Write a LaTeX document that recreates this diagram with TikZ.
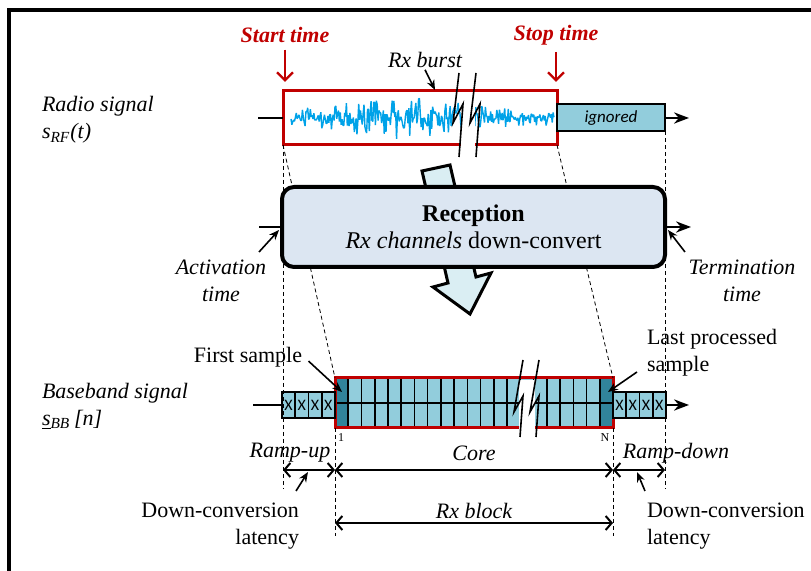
\documentclass[tikz,border=0pt]{standalone}
\usepackage{fontspec}
\setmainfont{Liberation Serif}
\setsansfont{Carlito}
\usetikzlibrary{arrows.meta, positioning}

\definecolor{burstred}{RGB}{192,0,0}
\definecolor{cellblue}{RGB}{146,205,220}
\definecolor{celldark}{RGB}{49,132,155}
\definecolor{recfill}{RGB}{220,230,242}
\definecolor{arrowfill}{RGB}{218,238,243}
\definecolor{noiseblue}{RGB}{0,162,232}

\begin{document}
\begin{tikzpicture}[x = 0.5pt, y = -0.5pt, % one unit = one pixel of the sketch
                > = Stealth, % arrow head style
                node distance = 6.62pt, % width of one sample
                semithick % line style
            ]

            \tikzstyle{every node}=[inner sep = 1pt, outer sep = 0pt,
            font = \fontsize{11}{13.5}\selectfont]
            \tikzstyle{lbl}=[font = \fontsize{11}{13.5}\selectfont\itshape, align = center]
            \tikzstyle{redlbl}=[text = burstred, font = \fontsize{11}{13.5}\selectfont\bfseries\itshape]
            \tikzstyle{redarr}=[burstred, line width = 1.2pt,
            -{Straight Barb[length = 4pt, width = 8pt]}]
            \tikzstyle{ptr}=[line width = 0.8pt, -{Stealth[length = 5pt, width = 4pt]}]
            \tikzstyle{dimline}=[line width = 1pt,
            {Straight Barb[length = 3pt, width = 7pt]}-{Straight Barb[length = 3pt, width = 7pt]}]
            \tikzstyle{guide}=[thin, dash pattern = on 2pt off 1.5pt]
            \tikzstyle{xcell}=[draw, fill = cellblue, line width = 0.8pt, minimum width = 6.62pt,
            minimum height = 13pt, inner sep = 0pt, font = \fontsize{8}{8}\sffamily]
            \tikzstyle{brk}=[line width = 0.8pt]

            \useasboundingbox (0,0) rectangle (811,571);
            \draw[line width = 2.2pt] (9,571) -- (9,10) -- (811,10);

            % signal names
            \node (rf) [lbl, align = left, anchor = west] at (40,120) {Radio signal\\s\textsubscript{RF}(t)};
            \node (bb) [lbl, align = left, anchor = west] at (40,406) {Baseband signal\\\underline{s}\textsubscript{BB}\,[n]};

            % radio signal
            \node (burst) [draw = burstred, line width = 1.5pt, minimum width = 137pt,
            minimum height = 27pt] at (420,118) {};
            \node (ign) [draw, fill = cellblue, line width = 1pt, minimum width = 54pt,
            minimum height = 13.5pt, font = \fontsize{8.5}{9}\sffamily\itshape] at (611,118) {ignored};
            \coordinate (rfin) at (258,118); \coordinate (rfout) at (689,118);
            \draw[line width = 1pt] (rfin) -- (burst.west);
            \draw[line width = 1pt, ->] (ign.east) -- (rfout);

            \pgfmathsetseed{7}
            \draw[noiseblue, line width = 0.7pt, line join = bevel] plot[domain = 291:554, samples = 300]
            (\x, {118 + (7 + 14*exp(0-(((\x-400)/80)^2)))*rand*(0.5 + 0.5*(rnd > 0.5))});
            \fill[white] (461,93) rectangle (475,148);
            \draw[brk] (459,73) -- (453,123) -- (463,104) -- (459,157);
            \draw[brk] (476,73) -- (470,123) -- (480,104) -- (476,157);

            \node (start) [redlbl] at (285,35) {Start time};
            \node (stop) [redlbl] at (556,35) {Stop time};
            \draw[redarr, shorten < = 2.5pt, shorten > = 4.5pt] (start.south) -- (start.south |- burst.north);
            \draw[redarr, shorten < = 2.5pt, shorten > = 4.5pt] (stop.south) -- (stop.south |- burst.north);

            \node (rxb) [lbl] at (425,60) {Rx burst};
            \coordinate (rxbtip) at (435,90);
            \draw[ptr] (rxb.south) -- (rxbtip);

            % baseband signal
            \node (core) [draw = burstred, line width = 1.5pt, fill = cellblue, minimum width = 139pt,
            minimum height = 25pt, inner sep = 0pt] at (474,403) {};
            \fill[celldark] ([shift = {(0.75pt,-0.75pt)}]core.north west) rectangle ([shift = {(6.62pt,0.75pt)}]core.south west);
            \fill[celldark] ([shift = {(-0.75pt,-0.75pt)}]core.north east) rectangle ([shift = {(-6.62pt,0.75pt)}]core.south east);
            \foreach \i in {1,...,20}
                \draw[line width = 0.8pt, shorten < = 0.75pt, shorten > = 0.75pt]
                ([xshift = {\i*6.62pt}]core.north west) -- ([xshift = {\i*6.62pt}]core.south west);
            \draw[line width = 0.8pt, shorten < = 0.75pt, shorten > = 0.75pt] (core.west) -- (core.east);
            \fill[white] (519,380.5) rectangle (535,431);
            \draw[brk] (523,360) -- (514,412) -- (523,396) -- (520,437);
            \draw[brk] (539,360) -- (530,412) -- (539,396) -- (536,437);

            \node (u1) [xcell] at (288.6,405) {X}; \node (u2) [xcell, right of = u1] {X};
            \node (u3) [xcell, right of = u2] {X}; \node (u4) [xcell, right of = u3] {X};
            \node (d1) [xcell] at (619.6,405) {X}; \node (d2) [xcell, right of = d1] {X};
            \node (d3) [xcell, right of = d2] {X}; \node (d4) [xcell, right of = d3] {X};
            \coordinate (bbin) at (253,405); \coordinate (bbout) at (689,405);
            \draw[line width = 1pt] (bbin) -- (u1.west);
            \draw[line width = 1pt, ->] (d4.east) -- (bbout);

            \node (one) [font = \fontsize{6}{6}\selectfont] at (341,438) {1};
            \node (nn) [font = \fontsize{6}{6}\selectfont] at (605,438) {N};

            % guide lines
            \coordinate (gbot) at (0,489); \coordinate (gend) at (0,536);
            \draw[guide] (burst.south west) -- (burst.south west |- gbot);
            \draw[guide] (ign.south east) -- (ign.south east |- gbot);
            \draw[guide] (burst.south west) -- (core.north west);
            \draw[guide] (burst.south east) -- (core.north east);
            \draw[guide] (core.south west) -- (core.south west |- gend);
            \draw[guide] (core.south east) -- (core.south east |- gend);

            % reception
            \draw[fill = arrowfill, line width = 1.5pt] (422,171) -- (450,165) -- (476,277) -- (491,273)
            -- (470,314) -- (433,287) -- (448,283) -- cycle;
            \node (rec) [draw, fill = recfill, rounded corners = 6pt, line width = 2pt,
            minimum width = 191.5pt, minimum height = 40pt, align = center,
            font = \fontsize{12}{13.5}\selectfont] at (473.5,227)
            {\textbf{Reception}\\\textit{Rx channels} down-convert};
            \coordinate (recin) at (259,227); \coordinate (recout) at (691,227);
            \draw[line width = 1pt] (recin) -- (rec.west);
            \draw[line width = 1pt, ->] (rec.east) -- (recout);

            \node (act) [lbl] at (221,281) {Activation\\time};
            \node (term) [lbl] at (742,281) {Termination\\time};
            \coordinate (acttail) at (259,252); \coordinate (termtail) at (685,252);
            \draw[ptr] (acttail) -- ([shift = {(-1.5pt,-1.5pt)}]rec.west);
            \draw[ptr] (termtail) -- ([shift = {(1.5pt,-1.5pt)}]rec.east);

            % sample pointers
            \node (first) at (248,357) {First sample};
            \node (last) [align = left, anchor = west] at (645,353) {Last processed\\sample};
            \draw[ptr, shorten < = 3pt] (first.east) -- ([shift = {(3.5pt,-7pt)}]core.north west);
            \draw[ptr] ([shift = {(-4pt,-9.5pt)}]last.west) -- ([shift = {(-2.5pt,-7pt)}]core.north east);

            % spans
            \node (rup) [lbl] at (290,453) {Ramp-up};
            \node (corelbl) [lbl] at (474,453) {Core};
            \node (rdn) [lbl] at (676,453) {Ramp-down};
            \coordinate (m0) at (283,470); \coordinate (m1) at (335,470);
            \coordinate (m2) at (613,470); \coordinate (m3) at (665,470);
            \draw[dimline] (m0) -- (m1); \draw[dimline] (m1) -- (m2); \draw[dimline] (m2) -- (m3);

            \node (blk) [lbl] at (474,511) {Rx block};
            \coordinate (k0) at (335,523); \coordinate (k1) at (613,523);
            \draw[dimline] (k0) -- (k1);

            \node (lat1) [align = right, anchor = east] at (301,526) {Down-conversion\\latency};
            \node (lat2) [align = left, anchor = west] at (645,526) {Down-conversion\\latency};
            \coordinate (p1) at (296,491); \coordinate (p2) at (645,491);
            \draw[ptr] (p1) -- ([shift = {(12.5pt,-1pt)}]m0);
            \draw[ptr] (p2) -- ([shift = {(12pt,-1pt)}]m2);
\end{tikzpicture}
\end{document}
